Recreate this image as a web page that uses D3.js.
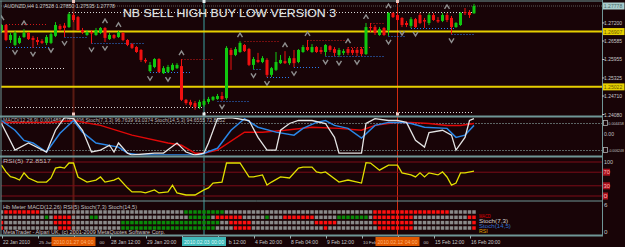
<!DOCTYPE html>
<html><head><meta charset="utf-8">
<script src="https://cdn.jsdelivr.net/npm/d3@7/dist/d3.min.js"></script>
<style>html,body{margin:0;padding:0;background:#180407;overflow:hidden}svg{display:block}</style>
</head><body><svg id="chart" width="625" height="247"></svg>
<script>
// ---------------- DATA ----------------
const symbolInfo = "AUDNZD,H4 1.27528 1.27850 1.27535 1.27778";
const titleText = "NB SELL HIGH BUY LOW VERSION 3";
const opens = [1.2694,1.2713,1.2662,1.2645,1.2652,1.2672,1.2686,1.2669,1.2662,1.2658,
1.2652,1.2652,1.2676,1.2710,1.2711,1.2706,1.2747,1.2740,1.2696,1.2679,
1.2689,1.2679,1.2686,1.2703,1.2665,1.2679,1.2672,1.2686,1.2662,1.2648,
1.2638,1.2628,1.2594,1.2556,1.2570,1.2597,1.2549,1.2553,1.2560,1.2566,
1.2573,1.2458,1.2451,1.2447,1.2434,1.2441,1.2451,1.2458,1.2461,1.2471,
1.2464,1.2628,1.2611,1.2621,1.2645,1.2631,1.2577,1.2594,1.2587,1.2594,
1.2543,1.2560,1.2583,1.2590,1.2583,1.2600,1.2587,1.2621,1.2638,1.2621,
1.2638,1.2628,1.2621,1.2641,1.2631,1.2611,1.2618,1.2631,1.2628,1.2628,
1.2631,1.2614,1.2706,1.2706,1.2679,1.2703,1.2696,1.2754,1.2747,1.2737,
1.2720,1.2710,1.2733,1.2747,1.2730,1.2720,1.2747,1.2730,1.2727,1.2747,
1.2737,1.2706,1.2713,1.2757,1.2757,1.27528];
const highs = [1.2716,1.2716,1.2686,1.2693,1.2676,1.2699,1.2689,1.2676,1.2672,1.2665,
1.2679,1.2689,1.2723,1.2716,1.2720,1.2757,1.2754,1.2744,1.2703,1.2696,
1.2696,1.2703,1.2706,1.2706,1.2686,1.2682,1.2693,1.2689,1.2665,1.2652,
1.2641,1.2631,1.2600,1.2587,1.2600,1.2600,1.2573,1.2577,1.2583,1.2583,
1.2597,1.2461,1.2458,1.2454,1.2458,1.2461,1.2468,1.2471,1.2478,1.2485,
1.2641,1.2635,1.2638,1.2658,1.2648,1.2635,1.2604,1.2618,1.2607,1.2600,
1.2570,1.2621,1.2611,1.2624,1.2607,1.2628,1.2631,1.2645,1.2662,1.2648,
1.2641,1.2638,1.2648,1.2645,1.2638,1.2635,1.2631,1.2638,1.2635,1.2635,
1.2638,1.2720,1.2720,1.2713,1.2706,1.2706,1.2757,1.2757,1.2754,1.2740,
1.2727,1.2740,1.2737,1.2754,1.2737,1.2754,1.2754,1.2740,1.2754,1.2754,
1.2744,1.2723,1.2757,1.2771,1.2764,1.27850];
const lows = [1.2686,1.2658,1.2652,1.2641,1.2648,1.2669,1.2662,1.2635,1.2645,1.2648,
1.2645,1.2648,1.2672,1.2693,1.2672,1.2703,1.2723,1.2693,1.2682,1.2676,
1.2650,1.2676,1.2682,1.2655,1.2662,1.2665,1.2669,1.2658,1.2641,1.2631,
1.2618,1.2587,1.2583,1.2552,1.2566,1.2549,1.2546,1.2549,1.2556,1.2563,
1.2454,1.2441,1.2434,1.2424,1.2427,1.2434,1.2444,1.2454,1.2458,1.2455,
1.2458,1.2560,1.2607,1.2618,1.2621,1.2573,1.2562,1.2583,1.2583,1.2535,
1.2536,1.2556,1.2580,1.2580,1.2577,1.2569,1.2583,1.2618,1.2624,1.2618,
1.2618,1.2614,1.2608,1.2621,1.2607,1.2604,1.2611,1.2611,1.2611,1.2607,
1.2607,1.2611,1.2689,1.2679,1.2676,1.2676,1.2676,1.2737,1.2723,1.2706,
1.2706,1.2703,1.2703,1.2716,1.2703,1.2713,1.2727,1.2720,1.2723,1.2723,
1.2681,1.2703,1.2710,1.2747,1.2737,1.27515];
const closes = [1.2713,1.2662,1.2679,1.2686,1.2669,1.2686,1.2665,1.2662,1.2655,1.2652,
1.2672,1.2682,1.2713,1.2699,1.2703,1.2750,1.2730,1.2696,1.2689,1.2689,
1.2684,1.2696,1.2703,1.2669,1.2679,1.2669,1.2689,1.2662,1.2645,1.2635,
1.2621,1.2594,1.2589,1.2577,1.2597,1.2553,1.2566,1.2570,1.2577,1.2577,
1.2458,1.2447,1.2441,1.2434,1.2451,1.2454,1.2461,1.2468,1.2471,1.2461,
1.2635,1.2611,1.2631,1.2652,1.2624,1.2577,1.2597,1.2587,1.2600,1.2543,
1.2566,1.2587,1.2594,1.2583,1.2600,1.2583,1.2628,1.2638,1.2628,1.2638,
1.2621,1.2621,1.2645,1.2628,1.2618,1.2628,1.2624,1.2618,1.2618,1.2618,
1.2614,1.2706,1.2703,1.2686,1.2699,1.2679,1.2754,1.2740,1.2730,1.2713,
1.2713,1.2733,1.2706,1.2720,1.2725,1.2747,1.2730,1.2725,1.2747,1.2730,
1.2706,1.2720,1.2754,1.2754,1.2747,1.27778];

const fractalUpBars = [0,5,23,26,40,53,63,68,77,81,86,99];
const fractalDownBars = [3,7,11,14,20,23,33,37,49,56,59,65,72,75,79,86,89,92,100];

// [startBar, endBar, price]
const whiteLevels = [[15,105,1.2757],[1,14,1.2566],[1,45,1.2434],[45,105,1.2415]];
const redLevels = [[1,10,1.2716],[40,47,1.2597],[54,62,1.2658],[68,77,1.2662],[77,82,1.2638],[82,85,1.2720]];
const blueLevels = [[1,11,1.2639],[14,19,1.2672],[20,32,1.2650],[33,42,1.2552],[48,55,1.2455],[56,58,1.2562],
  [59,64,1.2535],[65,71,1.2569],[72,85,1.2608],[86,90,1.2676],[91,101,1.2702],[100,105,1.2681]];
const yellowLevels = [1.26907, 1.25022];
const bidPrice = 1.27778;

const priceTicks = [1.27200,1.26585,1.25955,1.25325,1.24710,1.24080];

// [bar, value]
const stochFast = [[0,84],[3,13],[6,32],[10,8],[12,66],[14,100],[16,97],[18,66],[20,8],[22,13],[24,26],[25,8],[26,32],
  [28,5],[29,0],[34,5],[36,5],[39,32],[41,8],[43,0],[45,5],[46,32],[48,97],[51,100],[55,92],[57,47],[59,13],[61,13],
  [62,66],[64,84],[66,92],[69,92],[72,84],[74,47],[75,5],[80,5],[81,84],[83,97],[86,92],[88,92],[90,87],[92,39],
  [94,21],[95,60],[98,66],[100,53],[101,13],[103,47],[104,92],[105,97]];
const stochSlow = [[0,92],[3,66],[5,39],[7,32],[10,8],[13,58],[16,92],[18,61],[21,32],[26,21],[28,5],[31,0],[44,0],
  [48,18],[51,66],[54,97],[57,74],[61,61],[65,53],[67,71],[70,87],[72,92],[74,79],[77,71],[80,45],[83,79],[86,87],
  [89,87],[91,84],[94,74],[99,71],[101,47],[103,53],[104,66],[105,79]];
const macdLine = [[0,87],[11,87],[16,92],[22,79],[29,53],[37,32],[40,26],[43,5],[45,5],[48,13],[54,61],[58,61],
  [63,66],[69,74],[75,71],[80,66],[83,79],[88,87],[91,87],[95,84],[99,79],[102,79],[105,84]];
const macdText = "MACD(12,26,9) 0.001489 0.000406 Stoch(7,3,3) 96.7639 93.0374 Stoch(14,5,3) 94.6555 72.8952";
const macdAxis = [["0.004458",0.004458,true],["0.00",0,false],["-0.006248",-0.006248,true]];

const rsi = [[0,91],[1,71],[2,57],[3,53],[4,47],[5,68],[6,53],[8,41],[10,41],[11,53],[12,82],[13,85],[14,82],[15,97],
  [16,97],[17,56],[19,41],[21,47],[22,56],[23,41],[25,47],[26,53],[28,24],[29,12],[31,12],[32,9],[34,18],[35,9],
  [37,12],[38,32],[39,9],[41,3],[43,3],[45,18],[46,24],[47,38],[49,41],[50,97],[51,97],[53,97],[55,56],[56,56],
  [58,62],[59,32],[60,41],[62,56],[64,53],[66,82],[67,85],[69,85],[70,71],[71,68],[72,71],[75,41],[77,47],[80,38],
  [81,98],[82,97],[84,76],[86,91],[88,91],[89,68],[91,62],[92,56],[93,68],[94,56],[95,68],[97,62],[98,71],[99,56],
  [100,32],[101,38],[102,68],[103,68],[105,73]];
const rsiText = "RSI(5) 72.8517";
const rsiLevels = [100,70,30,0];

// heat meter rows, run-length [state, count]  (-1 red, 0 grey, 1 green)
const heatNames = ["MACD","Stoch(7,3)","Stoch(14,5)","RSI"];
const heatMACD = [[0,1],[-1,8],[0,32],[1,9],[0,33],[-1,17],[0,6]];
const heatStoch73 = [[0,10],[1,1],[0,1],[-1,4],[0,4],[1,2],[0,20],[1,5],[0,1],[-1,6],[0,5],[1,1],[0,3],[-1,7],[0,5],[1,7],[0,1],[-1,9],[0,12],[-1,2]];
const heatStoch145 = [[-1,1],[0,11],[-1,4],[0,11],[1,22],[0,2],[-1,5],[0,14],[-1,5],[0,8],[-1,9],[0,13],[-1,1]];
const heatRSI = [[-1,1],[0,12],[-1,3],[0,11],[1,21],[0,4],[-1,4],[0,16],[-1,1],[0,11],[-1,8],[0,13],[-1,1]];
const heatTitle = "Hb Meter MACD(12,26) RSI(5) Stoch(7,3) Stoch(14,5)";
const copyright = "MetaTrader - Alpari UK, (c) 2001-2009 MetaQuotes Software Corp.";

const timeLabelBars = [0,8,16,24,32,40,48,56,64,72,80,88,96,104];
const timeLabels = ["22 Jan 2010","25 Jan 20:00","27 Jan 04:00","28 Jan 12:00","29 Jan 20:00","2 Feb 04:00",
  "3 Feb 12:00","4 Feb 20:00","8 Feb 04:00","9 Feb 12:00","10 Feb 20:00","12 Feb 04:00","15 Feb 12:00","16 Feb 20:00"];
// part of each time label left visible by the marker boxes: [leading chars, trailing chars] (null = fully visible)
const timeLabelVisible = [null,[6,0],[0,2],null,null,[0,0],[0,7],null,null,null,[6,0],[0,2],null,null];
const vlineBars = [16,45,88];
const vlineLabels = ["2010.01.27 04:00","2010.02.03 00:00","2010.02.12 04:00"];

// ---------------- DRAW ----------------
const W=625,H=247, BG="#180407", FRAME="#6f9696", FONT="'Liberation Sans',Arial,sans-serif";
const svg=d3.select("#chart");
svg.append("rect").attr("width",W).attr("height",H).attr("fill",BG);

const n = opens.length;
const x = d3.scaleLinear().domain([0,105]).range([1.5,474]);
const yP = d3.scaleLinear().domain([1.2408,1.27778]).range([114.5,6]);
const yS = d3.scaleLinear().domain([0,100]).range([155,117.5]);
const yR = d3.scaleLinear().domain([0,100]).range([196,162]);
const yM = d3.scaleLinear().domain([-0.006248,0.004458]).range([150,123]);
const RIGHT=602;

function txt(g,xx,yy,s,size,fill,len,anchor){
  const t=g.append("text").attr("x",xx).attr("y",yy).text(s).attr("font-family",FONT)
    .attr("font-size",size).attr("fill",fill);
  if(len){t.attr("textLength",len).attr("lengthAdjust","spacingAndGlyphs");}
  if(anchor)t.attr("text-anchor",anchor);
  return t;
}
// text whose natural width never exceeds len (font shrunk if needed)
function fitTxt(g,xx,yy,s,maxSize,fill,len,anchor){
  const t=g.append("text").attr("x",xx).attr("y",yy).text(s).attr("font-family",FONT).attr("font-size",1).attr("fill",fill);
  const w1=t.node().getComputedTextLength()||s.length*0.55;
  t.attr("font-size",Math.min(maxSize,len/w1*0.97)).attr("textLength",len).attr("lengthAdjust","spacingAndGlyphs");
  if(anchor)t.attr("text-anchor",anchor);
  return t;
}
const defs=svg.append("defs");
function clip(id,y0,y1){defs.append("clipPath").attr("id",id).append("rect").attr("x",1).attr("y",y0).attr("width",RIGHT-1).attr("height",y1-y0);}
clip("cMain",2,115.5);clip("cSto",117.5,155.5);clip("cRsi",158,200);clip("cHeat",201.5,235);

// vertical lines (behind)
const vcol=["#5a1a12","#3aa0a0","#d02a10"], vw=[2,1,1];
vlineBars.forEach((b,k)=>{
  svg.append("line").attr("x1",x(b)).attr("x2",x(b)).attr("y1",1).attr("y2",235.5)
    .attr("stroke",vcol[k]).attr("stroke-width",vw[k]);
});

// ---- main panel ----
const gm=svg.append("g").attr("clip-path","url(#cMain)");
yellowLevels.forEach(p=>gm.append("line").attr("x1",1).attr("x2",RIGHT).attr("y1",yP(p)).attr("y2",yP(p))
  .attr("stroke","#e6cf00").attr("stroke-width",2));
gm.append("line").attr("x1",1).attr("x2",RIGHT).attr("y1",yP(bidPrice)).attr("y2",yP(bidPrice))
  .attr("stroke","#5a5a5a").attr("stroke-width",1).attr("stroke-dasharray","1,1");
function levels(arr,col){
  arr.forEach(([a,b,p])=>gm.append("line").attr("x1",x(a)).attr("x2",x(b)).attr("y1",Math.round(yP(p))+0.5).attr("y2",Math.round(yP(p))+0.5)
    .attr("stroke",col).attr("stroke-width",1).attr("stroke-dasharray","1,2"));
}
levels(whiteLevels,"#d8d8d8");levels(redLevels,"#d01818");levels(blueLevels,"#2c7cf0");

const idx=d3.range(n);
const up=i=>closes[i]>=opens[i];
gm.selectAll(".wick").data(idx).join("line").attr("x1",i=>x(i)).attr("x2",i=>x(i))
  .attr("y1",i=>yP(highs[i])).attr("y2",i=>yP(lows[i]))
  .attr("stroke",i=>up(i)?"#10c810":"#f01010").attr("stroke-width",1);
gm.selectAll(".body").data(idx).join("rect").attr("x",i=>x(i)-1.5).attr("width",3)
  .attr("y",i=>yP(Math.max(opens[i],closes[i])))
  .attr("height",i=>Math.max(1,Math.abs(yP(opens[i])-yP(closes[i]))))
  .attr("fill",i=>up(i)?"#10c810":"#f01010");

fractalUpBars.forEach(b=>{
  gm.append("path").attr("transform",`translate(${x(b)},${yP(highs[b])-6})`)
    .attr("d","M-2.5,2L0,-2L2.5,2").attr("fill","none").attr("stroke","#8e8e8e").attr("stroke-width",1.4);
});
fractalDownBars.forEach(b=>{
  gm.append("path").attr("transform",`translate(${x(b)},${yP(lows[b])+6})`)
    .attr("d","M-2.5,-2L0,2L2.5,-2").attr("fill","none").attr("stroke","#8e8e8e").attr("stroke-width",1.4);
});

txt(svg,4,7.5,symbolInfo,6,"#c8c8c8",111);
txt(svg,123,17,titleText,11.5,"#e6e6e6",213).attr("stroke","#4a4a4a").attr("stroke-width",0.5).attr("paint-order","stroke");

// ---- stoch / macd panel ----
const gs=svg.append("g").attr("clip-path","url(#cSto)");
[123,150].forEach(v=>gs.append("line").attr("x1",1).attr("x2",RIGHT).attr("y1",v+0.5).attr("y2",v+0.5)
  .attr("stroke","#5c6464").attr("stroke-dasharray","2,1"));
txt(gs,3,122,macdText,6,"#b8b8b8",222);
const lineS=d3.line().x(d=>x(d[0])).y(d=>yS(d[1]));
gs.append("path").attr("d",lineS(macdLine)).attr("fill","none").attr("stroke","#e00808").attr("stroke-width",1.5);
gs.append("path").attr("d",lineS(stochSlow)).attr("fill","none").attr("stroke","#2a86e6").attr("stroke-width",1.5);
gs.append("path").attr("d",lineS(stochFast)).attr("fill","none").attr("stroke","#e4e4e4").attr("stroke-width",1.3);

// ---- rsi panel ----
const gr=svg.append("g").attr("clip-path","url(#cRsi)");
rsiLevels.forEach(v=>gr.append("line").attr("x1",1).attr("x2",RIGHT).attr("y1",yR(v)).attr("y2",yR(v))
  .attr("stroke","#7c0c18").attr("stroke-width",1));
txt(gr,3,163,rsiText,6,"#b8b8b8",48);
gr.append("path").attr("d",d3.line().x(d=>x(d[0])).y(d=>yR(d[1]))(rsi)).attr("fill","none")
  .attr("stroke","#e2e000").attr("stroke-width",1.3);

// ---- heat meter ----
const gh=svg.append("g").attr("clip-path","url(#cHeat)");
txt(svg,3,209,heatTitle,6,"#c0c0c0",134);
const heatRows=[heatMACD,heatStoch73,heatStoch145,heatRSI];
const heatY=[212,217.3,222.6,228];
const hcol={"-1":"#ff1010","0":"#8a8a8a","1":"#0a8a0a"};
heatRows.forEach((row,r)=>{
  let b=0;
  row.forEach(([s,c])=>{
    for(let k=0;k<c;k++,b++){
      gh.append("rect").attr("x",x(b)-1.75).attr("y",heatY[r]-1.75).attr("width",3.5).attr("height",3.5).attr("fill",hcol[s]);
    }
  });
});
const heatLabelCol=["#e00000","#d0d0d0","#2f70d0","#e0a000"];
heatNames.forEach((s,k)=>txt(svg,479,217.5+5*k,s,6,heatLabelCol[k],s.length*2.9));
txt(svg,3,234,copyright,6,"#c8c8c8",162);

// ---- frames ----
const fr=svg.append("g").attr("stroke",FRAME);
fr.append("line").attr("x1",1).attr("x2",1).attr("y1",0.5).attr("y2",236);
fr.append("line").attr("x1",RIGHT+0.5).attr("x2",RIGHT+0.5).attr("y1",0).attr("y2",236);
fr.append("line").attr("x1",0).attr("x2",RIGHT+1).attr("y1",1).attr("y2",1);
[116.5,156.5,201,235.5].forEach(v=>fr.append("line").attr("x1",0).attr("x2",RIGHT+1).attr("y1",v).attr("y2",v).attr("stroke-width",v===201?1:2));

// ---- right axes ----
priceTicks.forEach(p=>{
  svg.append("line").attr("x1",RIGHT).attr("x2",RIGHT+2.5).attr("y1",yP(p)).attr("y2",yP(p)).attr("stroke","#c0c0c0");
  txt(svg,604,yP(p)+2,p.toFixed(5),6,"#c8c8c8",18);
});
function priceBox(p,fill,tc){
  svg.append("rect").attr("x",603).attr("y",yP(p)-3.5).attr("width",21.5).attr("height",7).attr("fill",fill);
  txt(svg,603.8,yP(p)+2,p.toFixed(5),6,tc,18.5);
}
priceBox(bidPrice,"#a9cccc","#4a6a6a");
yellowLevels.forEach(p=>priceBox(p,"#e6cf00","#6a5a00"));

macdAxis.forEach(([s,v,icon])=>{
  if(icon){svg.append("rect").attr("x",603.5).attr("y",yM(v)-2.5).attr("width",4).attr("height",5).attr("fill","none").attr("stroke","#b0b0b0").attr("stroke-width",0.8);}
  if(icon) fitTxt(svg,608.3,yM(v)+2,s,5.5,"#c0c0c0",15.5);
  else txt(svg,604,yM(v)+2,s,6,"#c0c0c0",10);
});
rsiLevels.forEach(v=>{
  if(v===100){txt(svg,604,yR(v)+2,"100",6,"#c0c0c0",9);return;}
  svg.append("rect").attr("x",603).attr("y",yR(v)-3.5).attr("width",v===0?5:7).attr("height",7).attr("fill","#a8101c");
  txt(svg,603.5,yR(v)+2,String(v),6,"#ffb0b0",v===0?4:6.5);
});
txt(svg,604,207,"6",6,"#c0c0c0",3.5);
txt(svg,604,234,"0",6,"#c0c0c0",3.5);

// ---- time axis ----
const CH=2.45, BOXW=44, BOXTXT=40;
timeLabelBars.forEach((b,k)=>{
  svg.append("line").attr("x1",x(b)+1).attr("x2",x(b)+1).attr("y1",236).attr("y2",238.5).attr("stroke","#9ab0b0");
  const s=timeLabels[k], x0=x(b)+1.5, full=s.length*CH, vis=timeLabelVisible[k];
  if(!vis){txt(svg,x0,244,s,6,"#c8c8c8",full);return;}
  const [pre,suf]=vis;
  if(pre>0){
    const boxT=d3.min(vlineBars.map(v=>x(v)-BOXTXT/2).filter(v=>v>x0));
    fitTxt(svg,x0,244,s.slice(0,pre),6,"#c8c8c8",Math.min(pre*CH,boxT-x0-0.8));
  }
  if(suf>0){fitTxt(svg,x0+full,244,s.slice(-suf),6,"#c8c8c8",suf*CH,"end");}
});
const boxFill=["#e05800","#40b8b8","#e05800"], boxText=["#ffb070","#dffafa","#ffb070"];
vlineBars.forEach((b,k)=>{
  svg.append("rect").attr("x",x(b)-BOXW/2).attr("y",237).attr("width",BOXW).attr("height",9).attr("fill",boxFill[k]);
  fitTxt(svg,x(b),244,vlineLabels[k],6,boxText[k],BOXTXT,"middle");
  [1.5,114].forEach(yy=>svg.append("rect").attr("x",x(b)-1.5).attr("y",yy-1.5).attr("width",3).attr("height",3)
    .attr("fill",k===1?"#e8f0f0":"#f0c8c0"));
});
</script></body></html>
